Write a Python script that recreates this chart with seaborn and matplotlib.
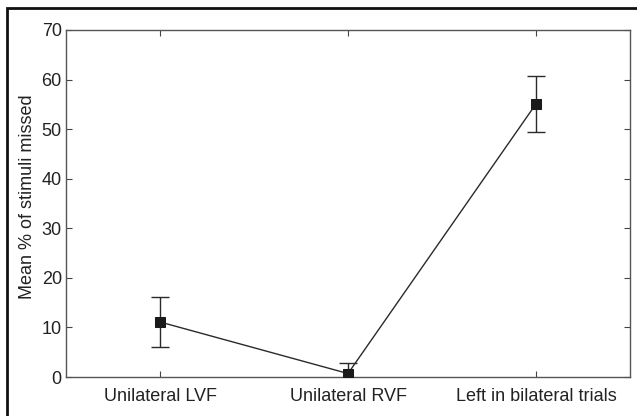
import matplotlib
matplotlib.use("Agg")
import matplotlib.pyplot as plt
import seaborn as sns
import pandas as pd
from matplotlib.patches import Rectangle

categories = ["Unilateral LVF", "Unilateral RVF", "Left in bilateral trials"]
mean_missed = [11.1, 0.7, 55.1]
err_missed = [5.0, 2.1, 5.7]
y_ticks = [0, 10, 20, 30, 40, 50, 60, 70]

sns.set_style("white")
plt.rcParams["font.family"] = ["Liberation Sans", "DejaVu Sans"]

df = pd.DataFrame({"pos": list(range(1, len(categories) + 1)),
                   "mean": mean_missed, "err": err_missed})

fig = plt.figure(figsize=(6.37, 4.16), dpi=100)
ax = fig.add_axes([66/637, 1 - 377/416, (630 - 66)/637, (377 - 30)/416])

ax.errorbar(df["pos"], df["mean"], yerr=df["err"], fmt="none",
            ecolor="#2a2a2a", elinewidth=1.0, capsize=6.5, capthick=1.0, zorder=2)
sns.lineplot(data=df, x="pos", y="mean", ax=ax, color="#2a2a2a", linewidth=1.0,
             marker="s", markersize=7, markeredgecolor="#1a1a1a",
             markerfacecolor="#1a1a1a", zorder=3)

ax.set_xlim(0.5, 3.5)
ax.set_ylim(0, 70)
ax.set_xticks(df["pos"])
ax.set_xticklabels(categories)
ax.set_yticks(y_ticks)
ax.set_xlabel("")
ax.set_ylabel("Mean % of stimuli missed", fontsize=13, color="#222222")
ax.yaxis.set_label_coords((36 - 66) / 564, (377 - 197) / 347)
ax.tick_params(direction="in", length=4, width=0.8, colors="#444444",
               labelcolor="#222222", labelsize=13, top=True, right=True,
               bottom=True, left=True, pad=3)
ax.tick_params(axis="x", pad=8)
for s in ax.spines.values():
    s.set_color("#555555")
    s.set_linewidth(1.0)
    s.set_visible(True)

fig.patches.append(Rectangle((7/637, -0.1), 1.0, 1 - 8/416 + 0.1,
                             transform=fig.transFigure, fill=False,
                             edgecolor="#111111", linewidth=2.0))

fig.savefig("out.png", dpi=100)
